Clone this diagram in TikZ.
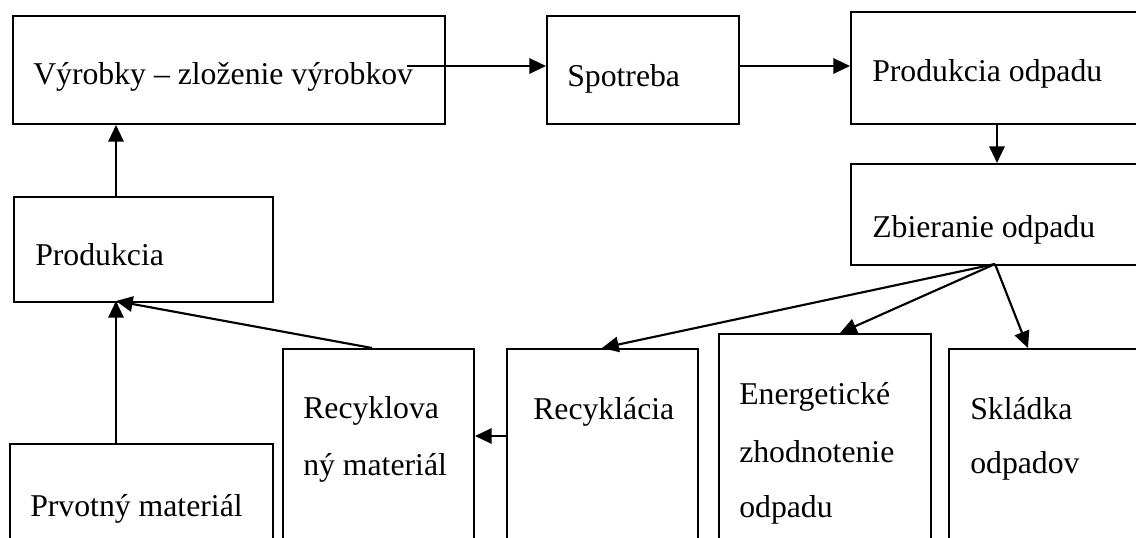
\documentclass[tikz,border=0pt]{standalone}
\usepackage{fontspec}
\setmainfont{Liberation Serif}
\usetikzlibrary{arrows.meta}

\begin{document}
\begin{tikzpicture}[x=0.75pt,y=-0.75pt,
  box/.style={draw, line width=1.5pt, inner sep=0pt, anchor=north west},
  lbl/.style={inner sep=0pt, anchor=base west, font=\fontsize{23.8}{28}\selectfont},
  flow/.style={line width=1.6pt, -{Triangle[length=12.5pt,width=11.5pt]}}]
  \useasboundingbox (0,0) rectangle (1136,538);
  \clip (0,0) rectangle (1136,538);

  % boxes, placed by their upper left corners
  \node[box, minimum width=324pt, minimum height=81pt] (vyr) at (12,15) {};
  \node[box, minimum width=144pt, minimum height=81pt] (spo) at (546,15) {};
  \node[box, minimum width=217.5pt, minimum height=84pt] (pod) at (850,11) {};
  \node[box, minimum width=217.5pt, minimum height=75.75pt] (zbi) at (850,163) {};
  \node[box, minimum width=194.25pt, minimum height=78.75pt] (pro) at (13,196) {};
  \node[box, minimum width=197.25pt, minimum height=90pt] (prv) at (9,443) {};
  \node[box, minimum width=143.25pt, minimum height=161.25pt] (rmat) at (282,348) {};
  \node[box, minimum width=143.25pt, minimum height=161.25pt] (rec) at (506,348) {};
  \node[box, minimum width=159pt, minimum height=172.5pt] (ene) at (718,333) {};
  \node[box, minimum width=144pt, minimum height=161.25pt] (skl) at (948,348) {};

  % texts
  \node[lbl] (tvyr) at (33,85) {Výrobky – zloženie výrobkov};
  \node[lbl] (tspo) at (567,87) {Spotreba};
  \node[lbl] (tpod) at (872,82) {Produkcia odpadu};
  \node[lbl] (tzbi) at (872,238) {Zbieranie odpadu};
  \node[lbl] (tpro) at (35,266) {Produkcia};
  \node[lbl] (tprv) at (30,516) {Prvotný materiál};
  \node[lbl] (trm1) at (303,419) {Recyklova};
  \node[lbl] (trm2) at (303,475) {ný materiál};
  \node[lbl] (trec) at (533,420) {Recyklácia};
  \node[lbl] (ten1) at (739,405) {Energetické};
  \node[lbl] (ten2) at (739,462) {zhodnotenie};
  \node[lbl] (ten3) at (739,517) {odpadu};
  \node[lbl] (tsk1) at (970,420) {Skládka};
  \node[lbl] (tsk2) at (970,473) {odpadov};

  % connector guide points
  \coordinate (c1) at (407,66);
  \coordinate (c2) at (116,301);
  \coordinate (c3) at (995,264);
  \coordinate (xd) at (997,0);
  \coordinate (xr) at (372,0);
  \coordinate (yr) at (0,436);
  \coordinate (xa) at (602,0);
  \coordinate (xb) at (840,0);
  \coordinate (xc) at (1028,0);

  % connectors
  \draw[flow] (c1) -- (spo.west |- c1);
  \draw[flow] (spo.east |- c1) -- (pod.west |- c1);
  \draw[flow] (pod.south -| xd) -- (zbi.north -| xd);
  \draw[flow] (pro.north -| c2) -- (vyr.south -| c2);
  \draw[flow] (prv.north -| c2) -- (c2);
  \draw[flow] (rmat.north -| xr) -- (c2);
  \draw[flow] (rec.west |- yr) -- (rmat.east |- yr);
  \draw[flow] (c3) -- (rec.north -| xa);
  \draw[flow] (c3) -- (ene.north -| xb);
  \draw[flow] (c3) -- (skl.north -| xc);
\end{tikzpicture}
\end{document}
